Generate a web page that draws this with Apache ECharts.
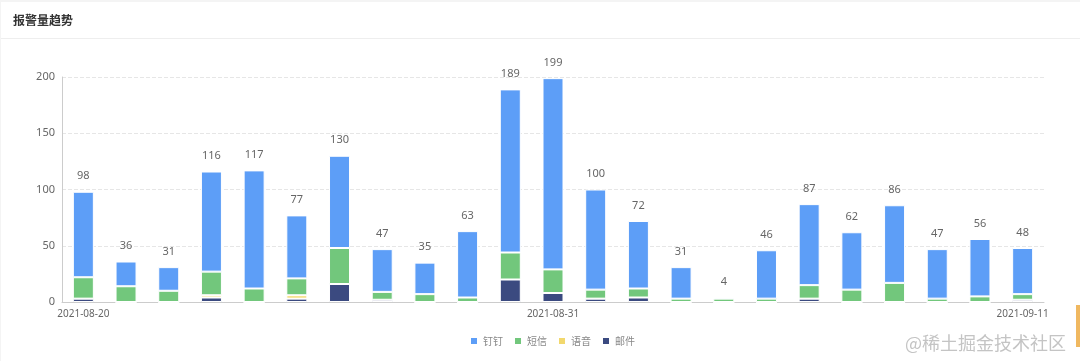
<!DOCTYPE html>
<html><head><meta charset="utf-8">
<script src="https://cdn.jsdelivr.net/npm/echarts@6/dist/echarts.min.js"></script>
<style>html,body{margin:0;padding:0;background:#f4f4f4;}#c{position:absolute;left:1px;top:2px;width:1079px;height:359px;background:#fff;}</style>
</head><body><div id="c"></div>
<script>
const categories = ['2021-08-20','2021-08-21','2021-08-22','2021-08-23','2021-08-24','2021-08-25','2021-08-26','2021-08-27','2021-08-28','2021-08-29','2021-08-30','2021-08-31','2021-09-01','2021-09-02','2021-09-03','2021-09-04','2021-09-05','2021-09-06','2021-09-07','2021-09-08','2021-09-09','2021-09-10','2021-09-11'];
const dingding = [76,22,21,89,105,56,82,38,28,59,145,170,89,60,28,1,43,72,51,69,44,51,41];
const sms      = [19,14,10,21,12,15,32,7,7,4,24,21,8,8,3,3,3,12,11,17,3,5,5];
const voice    = [0,0,0,2,0,3,0,0,0,0,0,0,0,0,0,0,0,0,0,0,0,0,0];
const mail     = [3,0,0,4,0,3,16,2,0,0,20,8,3,4,0,0,0,3,0,0,0,0,2];
const totals = categories.map((_, i) => dingding[i] + sms[i] + voice[i] + mail[i]);

const chart = echarts.init(document.getElementById('c'));
const common = { type: 'bar', stack: 'total', barWidth: 21 };
chart.setOption({
  animation: false,
  title: { text: '报警量趋势', left: 12, top: 12, padding: 0, textStyle: { fontSize: 12, fontWeight: 'bold', color: '#333', fontFamily: 'Noto Sans CJK SC' } },
  graphic: [
    { type: 'rect', shape: { x: 0, y: 36, width: 1079, height: 1 }, style: { fill: '#eeeeee' } },
    { type: 'text', right: 14, bottom: 9, style: { text: '@稀土掘金技术社区', fontSize: 18, fill: '#c4c4c4', fontFamily: 'Noto Sans CJK SC' } },
    { type: 'rect', shape: { x: 1075, y: 303, width: 4, height: 42 }, style: { fill: '#f0b860' } }
  ],
  color: ['#5D9EF7', '#72C77C', '#F2D86D', '#3B4A80'],
  grid: { left: 61, right: 36, top: 75, bottom: 59 },
  legend: {
    bottom: 10, left: 463, itemWidth: 8, itemHeight: 8, itemGap: 10, icon: 'rect',
    textStyle: { fontSize: 10, color: '#888', fontFamily: 'Noto Sans CJK SC' },
    data: ['钉钉', '短信', '语音', '邮件']
  },
  xAxis: {
    type: 'category', data: categories,
    axisLine: { lineStyle: { color: '#ccc' } },
    axisTick: { alignWithLabel: true, interval: 10, lineStyle: { color: '#ccc' } },
    axisLabel: { interval: 10, color: '#666', fontSize: 10, margin: 7, fontFamily: 'Noto Sans' }
  },
  yAxis: {
    type: 'value', min: 0, max: 200, interval: 50,
    axisLine: { show: true, lineStyle: { color: '#ccc' } },
    axisLabel: { color: '#666', fontSize: 11, margin: 7, fontFamily: 'Noto Sans' },
    splitLine: { lineStyle: { color: '#e6e6e6', type: 'dashed' } }
  },
  series: [
    Object.assign({}, common, { name: '邮件', data: mail, itemStyle: { color: '#3B4A80', borderColor: '#fff', borderWidth: 1 } }),
    Object.assign({}, common, { name: '语音', data: voice, itemStyle: { color: '#F2D86D', borderColor: '#fff', borderWidth: 1 } }),
    Object.assign({}, common, { name: '短信', data: sms, itemStyle: { color: '#72C77C', borderColor: '#fff', borderWidth: 1 } }),
    Object.assign({}, common, { name: '钉钉', data: dingding, itemStyle: { color: '#5D9EF7', borderColor: '#fff', borderWidth: 1 },
      label: { show: true, position: 'top', distance: 10, color: '#666', fontSize: 11, fontFamily: 'Noto Sans',
        formatter: p => totals[p.dataIndex] } })
  ]
});
</script></body></html>
